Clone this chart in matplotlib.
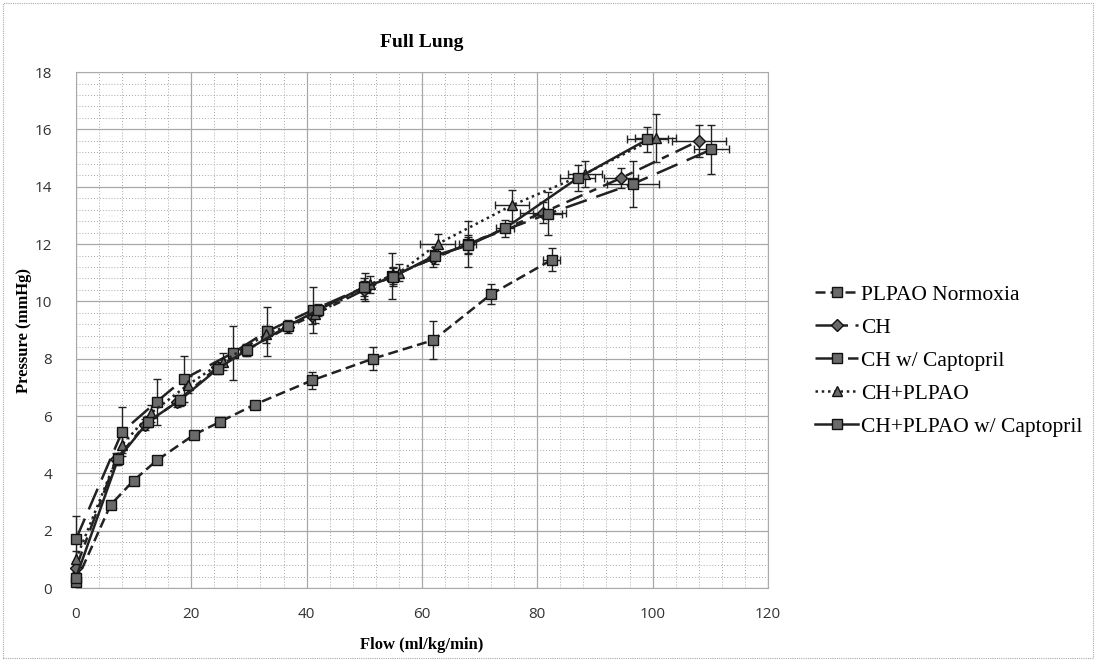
import numpy as np
import matplotlib
matplotlib.use("Agg")
import matplotlib.pyplot as plt
from matplotlib.ticker import MultipleLocator

# PLPAO Normoxia
pn_x = [0, 6, 10, 14, 20.5, 25, 31, 41, 51.5, 62, 72, 82.5]
pn_y = [0.2, 2.9, 3.75, 4.45, 5.35, 5.8, 6.4, 7.25, 8.0, 8.65, 10.25, 11.45]
pn_yerr = [0.1, 0.1, 0.1, 0.1, 0.1, 0.1, 0.1, 0.3, 0.4, 0.65, 0.35, 0.4]
pn_xerr = [0, 0, 0, 0, 0, 0, 0, 0, 0, 0, 0, 1.5]

# CH
ch_x = [0, 7, 12, 17.5, 24.5, 29.5, 36.8, 41, 50, 55, 62, 68, 81, 94.5, 108]
ch_y = [0.7, 4.5, 5.7, 6.5, 7.7, 8.3, 9.1, 9.5, 10.4, 10.9, 11.5, 12.0, 13.1, 14.3, 15.6]
ch_yerr = [0.2, 0.2, 0.2, 0.2, 0.2, 0.2, 0.2, 0.3, 0.3, 0.3, 0.3, 0.3, 0.35, 0.35, 0.55]
ch_xerr = [0, 0, 0, 0, 0, 0, 0, 0, 0, 0, 0, 0, 4.0, 3.0, 4.7]

# CH w/ Captopril
chc_x = [0, 8, 14, 18.8, 27.2, 33.1, 41.1, 50.1, 54.8, 67.9, 81.8, 96.6, 110.2]
chc_y = [1.7, 5.45, 6.5, 7.3, 8.2, 8.95, 9.7, 10.5, 10.9, 12.0, 13.05, 14.1, 15.3]
chc_yerr = [0.8, 0.85, 0.8, 0.8, 0.95, 0.85, 0.8, 0.5, 0.8, 0.8, 0.75, 0.8, 0.85]
chc_xerr = [0, 0, 0, 0, 0, 0, 0, 0, 0, 1.5, 2.5, 4.5, 3.0]

# CH+PLPAO
chp_x = [0, 8, 13, 19.5, 25.5, 33, 41.5, 51, 56, 62.7, 75.6, 88.3, 100.5]
chp_y = [1.0, 5.0, 6.1, 7.1, 7.9, 8.85, 9.55, 10.6, 11.0, 12.0, 13.35, 14.45, 15.7]
chp_yerr = [0.3, 0.3, 0.3, 0.3, 0.3, 0.3, 0.3, 0.3, 0.3, 0.35, 0.55, 0.45, 0.85]
chp_xerr = [0, 0, 0, 0, 0, 0, 0, 0, 0, 3.0, 3.0, 3.0, 3.5]

# CH+PLPAO w/ Captopril
chpc_x = [0, 7.3, 12.5, 18, 24.6, 29.6, 36.8, 42, 50, 55, 62.2, 68, 74.4, 87, 99.1]
chpc_y = [0.35, 4.5, 5.8, 6.55, 7.65, 8.3, 9.15, 9.7, 10.5, 10.85, 11.6, 11.95, 12.55, 14.3, 15.65]
chpc_yerr = [0.2, 0.2, 0.2, 0.2, 0.2, 0.2, 0.2, 0.2, 0.3, 0.3, 0.3, 0.3, 0.3, 0.45, 0.45]
chpc_xerr = [0, 0, 0, 0, 0, 0, 0, 0, 0, 0, 0, 0, 1.5, 3.0, 3.5]

series = [
    ("PLPAO Normoxia", pn_x, pn_y, pn_yerr, pn_xerr, (0, (4, 2)), "s"),
    ("CH", ch_x, ch_y, ch_yerr, ch_xerr, (0, (7, 3, 3, 3)), "D"),
    ("CH w/ Captopril", chc_x, chc_y, chc_yerr, chc_xerr, (0, (9, 4)), "s"),
    ("CH+PLPAO", chp_x, chp_y, chp_yerr, chp_xerr, (0, (1, 1.5)), "^"),
    ("CH+PLPAO w/ Captopril", chpc_x, chpc_y, chpc_yerr, chpc_xerr, "-", "s"),
]

serif = ["Liberation Serif", "DejaVu Serif"]

fig = plt.figure(figsize=(10.96, 6.61), dpi=100)
ax = fig.add_axes([0.0693, 0.1104, 0.6314, 0.7806])

handles = []
for label, x, y, yerr, xerr, ls, mk in series:
    eb = ax.errorbar(x, y, yerr=yerr, xerr=xerr, color="#222222", linestyle=ls,
                     linewidth=1.8, marker=mk, markersize=7.5 if mk != "D" else 6,
                     markerfacecolor="#6a6a6a", markeredgecolor="#111111",
                     markeredgewidth=1.0, ecolor="#222222", elinewidth=1.0,
                     capsize=3, label=label, clip_on=False, zorder=3)
    handles.append(eb.lines[0])

ax.set_xlim(0, 120)
ax.set_ylim(0, 18)
ax.xaxis.set_major_locator(MultipleLocator(20))
ax.xaxis.set_minor_locator(MultipleLocator(4))
ax.yaxis.set_major_locator(MultipleLocator(2))
ax.yaxis.set_minor_locator(MultipleLocator(0.4))
ax.grid(True, which="major", color="#a8a8a8", linewidth=0.9, linestyle="-")
ax.grid(True, which="minor", color="#a8a8a8", linewidth=0.7, linestyle=(0, (1, 2)))
ax.set_axisbelow(True)
for s in ax.spines.values():
    s.set_color("#aaaaaa")
    s.set_linewidth(0.8)
ax.tick_params(axis="x", which="both", length=0, labelsize=11, pad=14, labelcolor="#333333")
ax.tick_params(axis="y", which="both", length=0, labelsize=11, pad=17, labelcolor="#333333")
for t in ax.get_xticklabels() + ax.get_yticklabels():
    t.set_fontfamily("Open Sans")

ax.set_title("Full Lung", fontfamily=serif, fontweight="bold", fontsize=14, pad=18)
ax.set_xlabel("Flow (ml/kg/min)", fontfamily=serif, fontweight="bold", fontsize=12)
ax.set_ylabel("Pressure (mmHg)", fontfamily=serif, fontweight="bold", fontsize=12)
ax.yaxis.set_label_coords(-0.063, 0.5)
ax.xaxis.set_label_coords(0.5, -0.095)

leg = ax.legend(handles, [s[0] for s in series], loc="upper left",
                bbox_to_anchor=(1.04, 0.625), frameon=False,
                prop={"family": serif, "size": 15.5}, handlelength=2.0,
                handletextpad=0.15, labelspacing=0.6)

fig.patches.append(plt.Rectangle((0.003, 0.004), 0.994, 0.992, transform=fig.transFigure,
                                 fill=False, edgecolor="#aaaaaa", linewidth=0.8,
                                 linestyle=(0, (1, 1))))

fig.savefig("out.png", dpi=100)
